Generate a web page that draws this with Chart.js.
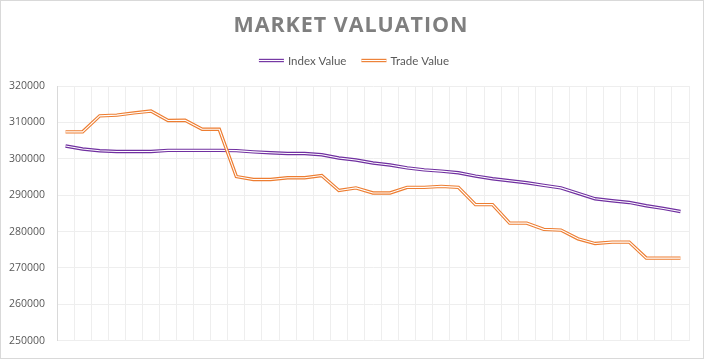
<!DOCTYPE html>
<html>
<head>
<meta charset="utf-8">
<script src="https://cdn.jsdelivr.net/npm/chart.js@4.4.1/dist/chart.umd.min.js"></script>
<style>
  html, body { margin: 0; padding: 0; background: #ffffff; }
  #c { display: block; }
</style>
</head>
<body>
<canvas id="c" width="704" height="359"></canvas>
<script>
const chartTitle = 'MARKET VALUATION';
const categories = ['1','2','3','4','5','6','7','8','9','10','11','12','13','14','15','16','17','18','19','20','21','22','23','24','25','26','27','28','29','30','31','32','33','34','35','36','37'];
const indexValue = [303500, 302700, 302200, 302000, 302000, 302000, 302300, 302300, 302300, 302300,
                    302250, 301900, 301650, 301450, 301450, 301100, 300200, 299650, 298850, 298300,
                    297500, 296950, 296600, 296150, 295250, 294500, 293950, 293400, 292700, 292000,
                    290500, 289000, 288450, 288000, 287100, 286350, 285500];
const tradeValue = [307400, 307400, 311800, 312000, 312600, 313100, 310500, 310600, 308100, 308100,
                    295100, 294300, 294300, 294800, 294800, 295400, 291300, 292000, 290600, 290600,
                    292150, 292150, 292400, 292150, 287400, 287400, 282300, 282300, 280600, 280400,
                    278000, 276700, 277100, 277100, 272700, 272700, 272700];
const yTicks = [250000, 260000, 270000, 280000, 290000, 300000, 310000, 320000];

const PURPLE = '#7030A0';
const ORANGE = '#ED7D31';

const decorPlugin = {
  id: 'decor',
  afterDraw(chart) {
    const ctx = chart.ctx;
    ctx.save();
    // outer border
    ctx.strokeStyle = '#d9d9d9';
    ctx.lineWidth = 1;
    ctx.strokeRect(0.5, 0.5, chart.width - 1, chart.height - 1);

    // title
    ctx.font = 'bold 22px "Open Sans"';
    ctx.letterSpacing = '1px';
    ctx.fillStyle = '#7f7f7f';
    ctx.textBaseline = 'middle';
    ctx.textAlign = 'left';
    const tw = ctx.measureText(chartTitle).width;
    const targetW = 235;
    const sx = targetW / tw;
    ctx.save();
    ctx.translate(chart.width / 2 - targetW / 2 - 1, 25.5);
    ctx.scale(sx, 1);
    ctx.fillText(chartTitle, 0, 0);
    ctx.restore();
    ctx.letterSpacing = '0px';

    // legend
    const items = [
      { label: chart.data.datasets[0].label, color: PURPLE },
      { label: chart.data.datasets[2].label, color: ORANGE }
    ];
    ctx.font = '11.5px Lato';
    const markW = 25, gap = 4, itemGap = 15;
    let total = 0;
    items.forEach((it, i) => {
      it.w = ctx.measureText(it.label).width;
      total += markW + gap + it.w + (i < items.length - 1 ? itemGap : 0);
    });
    let x = 354 - total / 2;
    const y = 60.5;
    items.forEach(it => {
      ctx.strokeStyle = it.color;
      ctx.lineWidth = 3.4;
      ctx.beginPath(); ctx.moveTo(x, y); ctx.lineTo(x + markW, y); ctx.stroke();
      ctx.strokeStyle = '#ffffff';
      ctx.lineWidth = 1.1;
      ctx.beginPath(); ctx.moveTo(x, y); ctx.lineTo(x + markW, y); ctx.stroke();
      ctx.fillStyle = '#595959';
      ctx.textBaseline = 'middle';
      ctx.fillText(it.label, x + markW + gap, y + 0.5);
      x += markW + gap + it.w + itemGap;
    });
    ctx.restore();
  }
};

const common = { pointRadius: 0, pointHoverRadius: 0, tension: 0, fill: false, borderJoinStyle: 'miter' };

new Chart(document.getElementById('c'), {
  type: 'line',
  data: {
    labels: categories,
    datasets: [
      Object.assign({ label: 'Index Value', data: indexValue, borderColor: PURPLE, borderWidth: 3.4, order: 4 }, common),
      Object.assign({ label: 'Index Value (inner)', data: indexValue, borderColor: '#ffffff', borderWidth: 1.1, order: 3 }, common),
      Object.assign({ label: 'Trade Value', data: tradeValue, borderColor: ORANGE, borderWidth: 3.4, order: 2 }, common),
      Object.assign({ label: 'Trade Value (inner)', data: tradeValue, borderColor: '#ffffff', borderWidth: 1.1, order: 1 }, common)
    ]
  },
  options: {
    responsive: false,
    animation: false,
    events: [],
    layout: { padding: { top: 86, right: 15, bottom: 15, left: 0 } },
    plugins: {
      legend: { display: false },
      title: { display: false },
      tooltip: { enabled: false }
    },
    scales: {
      x: {
        type: 'category',
        offset: true,
        grid: { offset: true, color: '#eeeeee', drawTicks: false, lineWidth: 1 },
        border: { display: false },
        ticks: { display: false },
        afterFit(s) { s.height = 0; }
      },
      y: {
        min: yTicks[0],
        max: yTicks[yTicks.length - 1],
        afterBuildTicks(s) { s.ticks = yTicks.map(v => ({ value: v })); },
        ticks: {
          padding: 12,
          color: '#595959',
          font: { family: 'Open Sans', size: 10.5 },
          callback: v => String(v)
        },
        grid: { color: '#eeeeee', drawTicks: false },
        border: { color: '#d9d9d9' },
        afterFit(s) { s.width = 57; }
      }
    }
  },
  plugins: [decorPlugin]
});
</script>
</body>
</html>
